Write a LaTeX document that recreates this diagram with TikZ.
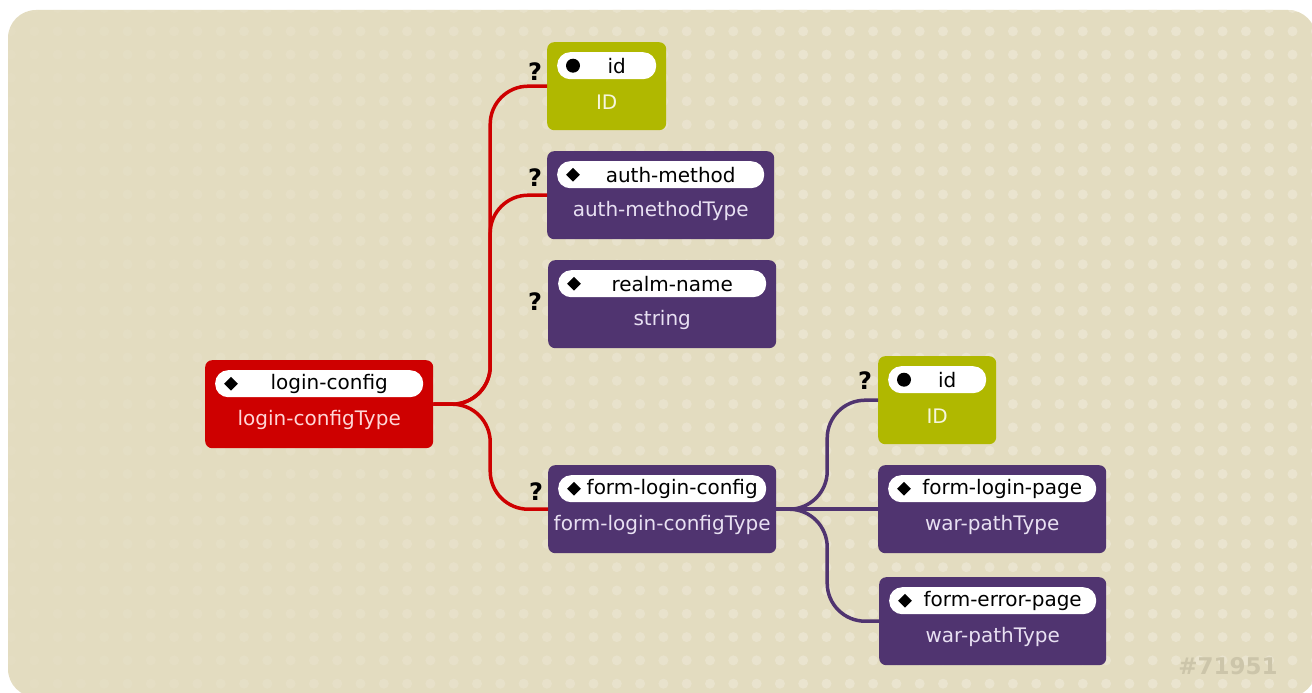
\documentclass[tikz,border=0pt]{standalone}
\usepackage{fontspec}
\setmainfont{DejaVu Sans}
\usepackage{tikz}
\usetikzlibrary{calc,shapes.geometric}

\definecolor{bgsand}{RGB}{227,220,192}
\definecolor{bgdot}{RGB}{234,228,207}
\definecolor{boxred}{RGB}{206,0,0}
\definecolor{boxpurple}{RGB}{80,52,112}
\definecolor{boxgreen}{RGB}{176,184,0}
\definecolor{typered}{RGB}{255,214,214}
\definecolor{typepurple}{RGB}{232,224,242}
\definecolor{typegreen}{RGB}{246,246,220}
\definecolor{stampgrey}{RGB}{204,197,170}

% one schema element: name, top-left corner, width, kind, marker, label, type
\newcommand{\xsdelem}[7]{%
  \node[elembox, #4box, minimum width=#3] (#1) at #2 {};
  \node[pill, minimum width=#3-20, anchor=north] (#1-pill) at ([yshift=-10pt]#1.north) {};
  \node[#5mark] (#1-mark) at ([xshift=16pt]#1-pill.west) {};
  \node[pilltext] (#1-name) at ([xshift=10pt]#1-pill.center) {#6};
  \node[#4type] (#1-type) at ([yshift=28pt]#1.south) {#7};
}

\begin{document}
\begin{tikzpicture}[x=1pt, y=-1pt,
    elembox/.style={anchor=north west, minimum height=88pt, inner sep=0pt, rounded corners=7pt},
    redbox/.style={fill=boxred},
    purplebox/.style={fill=boxpurple},
    greenbox/.style={fill=boxgreen},
    pill/.style={fill=white, minimum height=27pt, inner sep=0pt, rounded corners=13pt},
    diamondmark/.style={diamond, fill=black, minimum size=14pt, inner sep=0pt},
    circlemark/.style={circle, fill=black, minimum size=14pt, inner sep=0pt},
    pilltext/.style={font=\fontsize{20}{23}\selectfont, text=black, inner sep=0pt},
    redtype/.style={font=\fontsize{20}{23}\selectfont, text=typered, inner sep=0pt},
    purpletype/.style={font=\fontsize{20}{23}\selectfont, text=typepurple, inner sep=0pt},
    greentype/.style={font=\fontsize{20}{23}\selectfont, text=typegreen, inner sep=0pt},
    optional/.style={font=\bfseries\fontsize{24}{27}\selectfont, inner sep=0pt},
    redwire/.style={draw=boxred, line width=3.5pt, rounded corners=38pt},
    purplewire/.style={draw=boxpurple, line width=3.5pt, rounded corners=38pt}]
  \useasboundingbox (0,0) rectangle (1312,693);

  % sand panel with its dots
  \fill[bgsand, rounded corners=28pt] (8,10) rectangle (1316,697);
  \begin{scope}
    \clip[rounded corners=28pt] (8,10) rectangle (1316,697);
    \foreach \i in {0,...,56} {
      \pgfmathsetmacro{\dotop}{min(1,0.15+\i/40)}
      \foreach \j in {0,...,29}
        \fill[bgdot, opacity=\dotop] (11+23.3*\i, 8+23.3*\j) circle (5);
    }
  \end{scope}

  % elements
  \xsdelem{login}{(205,360)}{228}{red}{diamond}{login-config}{login-configType}
  \xsdelem{id1}{(547,42)}{119}{green}{circle}{id}{ID}
  \xsdelem{auth}{(547,151)}{227}{purple}{diamond}{auth-method}{auth-methodType}
  \xsdelem{realm}{(548,260)}{228}{purple}{diamond}{realm-name}{string}
  \xsdelem{flc}{(548,465)}{228}{purple}{diamond}{form-login-config}{form-login-configType}
  \xsdelem{id2}{(878,356)}{118}{green}{circle}{id}{ID}
  \xsdelem{flp}{(878,465)}{228}{purple}{diamond}{form-login-page}{war-pathType}
  \xsdelem{fep}{(879,577)}{227}{purple}{diamond}{form-error-page}{war-pathType}

  % optional marks
  \node[optional] (q-id1) at ([xshift=-12pt, yshift=-30pt]id1.north west) {?};
  \node[optional] (q-auth) at ([xshift=-12pt, yshift=-27pt]auth.north west) {?};
  \node[optional] (q-realm) at ([xshift=-13pt, yshift=-42pt]realm.north west) {?};
  \node[optional] (q-flc) at ([xshift=-12pt, yshift=-27pt]flc.north west) {?};
  \node[optional] (q-id2) at ([xshift=-13pt, yshift=-25pt]id2.north west) {?};

  % connectors
  \coordinate (fork1) at ($(login.east)!0.5!(id1.west |- login.east)$);
  \coordinate (fork2) at ($(flc.east)!0.5!(flp.west)$);
  \draw[redwire] (login.east) -| (fork1 |- id1.west) -- (id1.west);
  \draw[redwire] (login.east) -| (fork1 |- auth.west) -- (auth.west);
  \draw[redwire] (login.east) -| (fork1 |- flc.west) -- (flc.west);
  \draw[purplewire] (flc.east) -| (fork2 |- id2.west) -- (id2.west);
  \draw[purplewire] (flc.east) -- (flp.west);
  \draw[purplewire] (flc.east) -| (fork2 |- fep.west) -- (fep.west);

  \node[text=stampgrey, font=\bfseries\fontsize{23}{26}\selectfont] (stamp) at (1228,666) {\#71951};
\end{tikzpicture}
\end{document}
